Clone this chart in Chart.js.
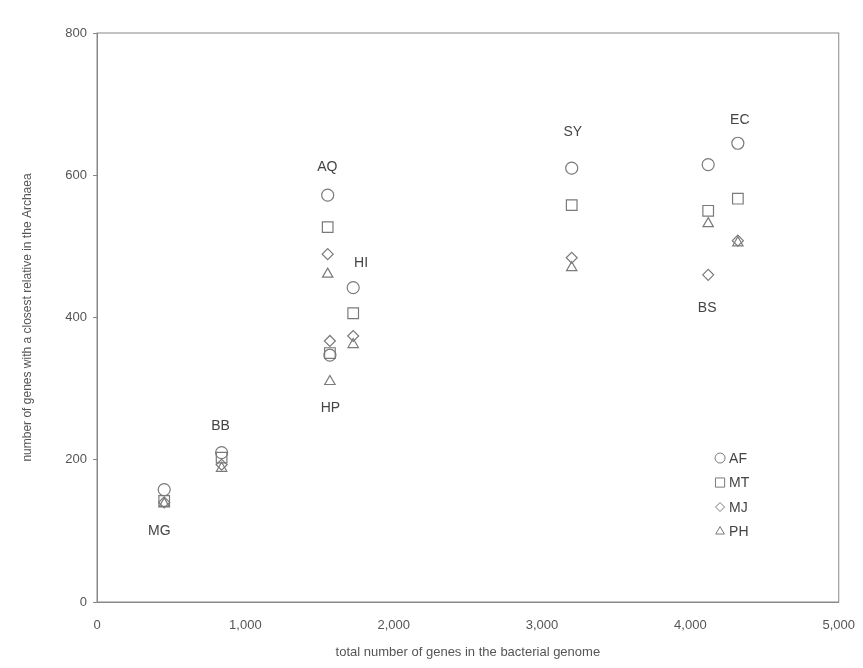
<!DOCTYPE html>
<html>
<head>
<meta charset="utf-8">
<script src="https://cdn.jsdelivr.net/npm/chart.js@4/dist/chart.umd.min.js"></script>
<style>
  html, body { margin: 0; padding: 0; background: #fff; }
  #wrap { width: 863px; height: 668px; }
</style>
</head>
<body>
<div id="wrap"><canvas id="myChart" width="863" height="668"></canvas></div>
<script>
// bacterial genomes and their total gene counts
const genomes = ["MG", "BB", "HP", "AQ", "HI", "SY", "BS", "EC"];
const genomeSize = [453, 840, 1570, 1555, 1727, 3200, 4120, 4320];

// genes with closest relative in each archaeal genome
const seriesNames = ["AF", "MT", "MJ", "PH"];
const valuesAF = [158, 210, 347, 572, 442, 610, 615, 645];
const valuesMT = [142, 203, 350, 527, 406, 558, 550, 567];
const valuesMJ = [140, 193, 367, 489, 374, 484, 460, 508];
const valuesPH = [138, 188, 310, 461, 362, 470, 532, 505];

const xTicks = [0, 1000, 2000, 3000, 4000, 5000];
const yTicks = [0, 200, 400, 600, 800];

const markerColor = "#7a7a7a";
const textColor = "#555";
const fontFamily = "'Liberation Sans', Arial, sans-serif";

const styles = ["circle", "rect", "rectRot", "triangle"];
const radii = [6, 7.5, 5.5, 6];
const allValues = [valuesAF, valuesMT, valuesMJ, valuesPH];

const toPoints = (vals) => vals.map((v, i) => ({ x: genomeSize[i], y: v }));

const datasets = seriesNames.map((name, k) => ({
  label: name,
  data: toPoints(allValues[k]),
  pointStyle: styles[k],
  pointRadius: radii[k],
  pointHoverRadius: radii[k],
  pointBorderWidth: 1.2,
  borderColor: markerColor,
  backgroundColor: "rgba(0,0,0,0)",
  showLine: false,
}));

// where each genome label sits, in data units
const labelPlacement = {
  MG: [420, 99],
  BB: [833, 247],
  AQ: [1553, 611],
  HI: [1780, 477],
  HP: [1573, 272],
  SY: [3207, 661],
  EC: [4333, 678],
  BS: [4113, 413],
};

const frameAndLabels = {
  id: "frameAndLabels",
  afterDraw(chart) {
    const { ctx, chartArea, scales } = chart;
    ctx.save();
    // frame round the plot
    ctx.strokeStyle = "#888";
    ctx.lineWidth = 1;
    ctx.strokeRect(chartArea.left, chartArea.top, chartArea.right - chartArea.left, chartArea.bottom - chartArea.top);

    // genome labels
    ctx.fillStyle = "#444";
    ctx.font = "14px " + fontFamily;
    ctx.textAlign = "center";
    ctx.textBaseline = "middle";
    genomes.forEach((g) => {
      const p = labelPlacement[g];
      ctx.fillText(g, scales.x.getPixelForValue(p[0]), scales.y.getPixelForValue(p[1]));
    });

    // legend box inside the plot
    const lx = chartArea.left + (chartArea.right - chartArea.left) * 0.84;
    const ly = chartArea.top + (chartArea.bottom - chartArea.top) * 0.747;
    ctx.textAlign = "left";
    ctx.font = "14px " + fontFamily;
    seriesNames.forEach((name, k) => {
      const y = ly + k * 24.5;
      ctx.strokeStyle = markerColor;
      ctx.fillStyle = "rgba(0,0,0,0)";
      Chart.helpers.drawPoint(ctx, { pointStyle: styles[k], radius: radii[k] - 1, borderWidth: 1.2, rotation: 0 }, lx, y);
      ctx.fillStyle = "#444";
      ctx.fillText(name, lx + 9, y + 1);
    });
    ctx.restore();
  },
};

const config = {
  type: "scatter",
  data: { datasets },
  options: {
    responsive: false,
    animation: false,
    layout: { padding: { top: 33, right: 5, left: 0, bottom: 0 } },
    plugins: {
      legend: { display: false },
      tooltip: { enabled: false },
    },
    scales: {
      x: {
        type: "linear",
        min: 0,
        max: 5000,
        afterBuildTicks: (s) => { s.ticks = xTicks.map((v) => ({ value: v })); },
        afterFit: (s) => { s.height = 66; },
        grid: { display: false },
        border: { display: true, color: "#888" },
        ticks: {
          color: textColor,
          padding: 8,
          font: { size: 13, family: fontFamily },
          callback: (v) => v.toLocaleString("en-US"),
        },
        title: {
          display: true,
          text: "total number of genes in the bacterial genome",
          color: textColor,
          font: { size: 13, family: fontFamily },
          padding: { top: 2, bottom: 8 },
        },
      },
      y: {
        type: "linear",
        min: 0,
        max: 800,
        afterBuildTicks: (s) => { s.ticks = yTicks.map((v) => ({ value: v })); },
        afterFit: (s) => { s.width = 97; },
        grid: { display: true, drawOnChartArea: false, tickLength: 4, color: "#888" },
        border: { display: true, color: "#888" },
        ticks: {
          color: textColor,
          padding: 6,
          font: { size: 13, family: fontFamily },
        },
        title: {
          display: true,
          text: "number of genes with a closest relative in the Archaea",
          color: textColor,
          font: { size: 12, family: fontFamily },
          padding: { top: 20, bottom: 0 },
        },
      },
    },
  },
  plugins: [frameAndLabels],
};

const myChart = new Chart(document.getElementById("myChart"), config);
</script>
</body>
</html>
